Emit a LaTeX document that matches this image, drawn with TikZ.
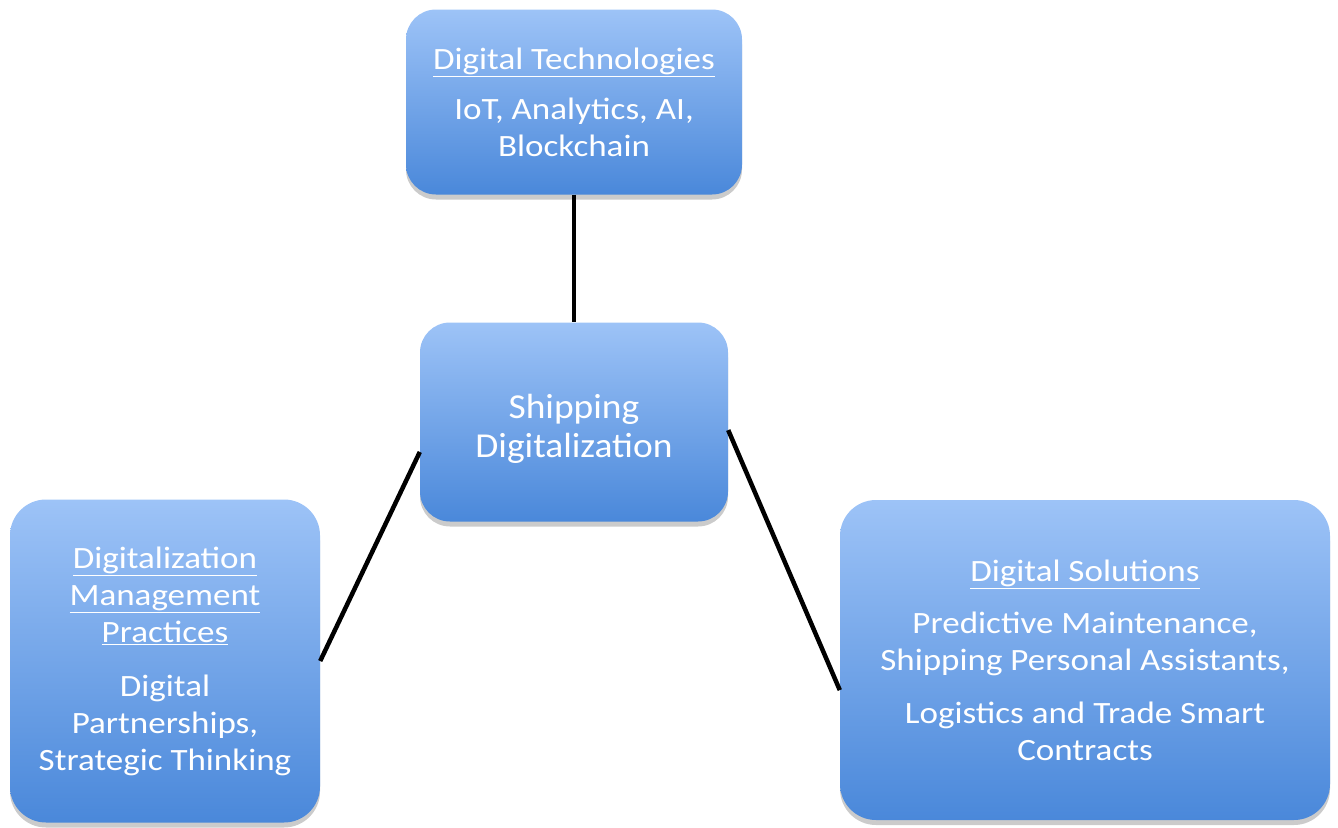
\documentclass[tikz,border=0pt]{standalone}
\usepackage{fontspec}
\setmainfont{Carlito}[FakeStretch=1.13]
\newfontfamily\centerfont{Carlito}[FakeStretch=1.07]
\usetikzlibrary{shadows}
\definecolor{boxtop}{HTML}{9DC3F7}
\definecolor{boxbot}{HTML}{4A88DA}
\tikzset{
  bluebox/.style={rectangle, rounded corners=36pt, top color=boxtop, bottom color=boxbot,
    draw=none, text=white, align=center, inner sep=0pt,
    font=\fontsize{31}{37}\selectfont,
    drop shadow={shadow xshift=0pt, shadow yshift=-5pt, fill=black!45, opacity=0.45}},
  boxtext/.style={text=white, align=center, inner sep=0pt},
  link/.style={line width=4.5pt, black}
}
\begin{document}
\begin{tikzpicture}[x=1pt,y=-1pt]
\useasboundingbox (0,0) rectangle (1338,827);
\node[bluebox, minimum width=336pt, minimum height=185pt, rounded corners=30pt] (tech) at (574,102)
  {\underline{Digital Technologies}\\[13pt] IoT, Analytics, AI,\\ Blockchain};
\node[bluebox, minimum width=308pt, minimum height=199pt, rounded corners=30pt] (ship) at (574,422) {};
\node[boxtext, font=\centerfont\fontsize{35}{39}\selectfont] (shiptext) at (574,429)
  {Shipping\\ Digitalization};
\node[bluebox, minimum width=310pt, minimum height=323pt] (mgmt) at (165,661)
  {\underline{Digitalization}\\ \underline{Management}\\ \underline{Practices}\\[17pt] Digital\\ Partnerships,\\ Strategic Thinking};
\node[bluebox, minimum width=490pt, minimum height=320pt] (sol) at (1085,660)
  {\underline{Digital Solutions}\\[15pt] Predictive Maintenance,\\ Shipping Personal Assistants,\\[16pt] Logistics and Trade Smart\\ Contracts};
\draw[link] (tech.south) -- (ship.north);
\draw[link] (ship.191) -- (mgmt.0);
\draw[link] (ship.-3) -- (sol.187);
\end{tikzpicture}
\end{document}
